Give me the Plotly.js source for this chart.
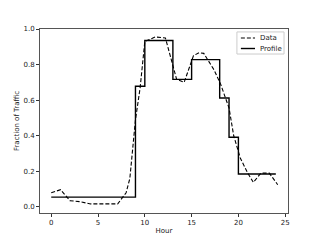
<!DOCTYPE html>
<html>
<head>
<meta charset="utf-8">
<script src="https://cdn.plot.ly/plotly-3.0.1.min.js"></script>
<style>html,body{margin:0;padding:0;background:#fff;}#chart{width:320px;height:240px;}</style>
</head>
<body>
<div id="chart"></div>
<script>
// Observed traffic data (hour, fraction)
const dataHours = [0, 1, 2, 3, 4.2, 7.1, 8, 8.4, 9, 9.5, 10, 11.1, 12.2, 13.4, 14.2, 15.2, 15.8, 16.3, 17.4, 18.1, 19, 19.5, 20.2, 21, 21.6, 22.4, 23.3, 24.2];
const dataValues = [0.08, 0.097, 0.035, 0.03, 0.017, 0.017, 0.08, 0.16, 0.49, 0.67, 0.93, 0.955, 0.95, 0.717, 0.70, 0.85, 0.867, 0.863, 0.77, 0.69, 0.556, 0.40, 0.275, 0.19, 0.138, 0.19, 0.19, 0.125];
// Step profile
const profileHours = [0, 9, 10, 13, 15, 18, 19, 20, 24];
const profileValues = [0.055, 0.678, 0.935, 0.717, 0.828, 0.612, 0.392, 0.185, 0.185];
const xTicks = [0, 5, 10, 15, 20, 25];
const yTicks = [0.0, 0.2, 0.4, 0.6, 0.8, 1.0];
const legendNames = ['Data', 'Profile'];

const font = {family: 'DejaVu Sans, sans-serif', size: 7, color: '#222'};
const dataLine = {color: '#000', width: 1.1, dash: '4px,2px'};
const profLine = {color: '#000', width: 1.4};

const traces = [
  {x: dataHours, y: dataValues, mode: 'lines', name: legendNames[0], line: dataLine},
  {x: profileHours, y: profileValues, mode: 'lines', name: legendNames[1],
   line: Object.assign({shape: 'hv'}, profLine)}
];

// compact matplotlib-style legend built in paper coordinates
const lg = {x0: 0.794, x1: 0.984, y0: 0.864, y1: 0.984, lx0: 0.810, lx1: 0.867, tx: 0.880, rows: [0.951, 0.894]};
const shapes = [
  {type: 'rect', xref: 'paper', yref: 'paper', x0: lg.x0, x1: lg.x1, y0: lg.y0, y1: lg.y1,
   line: {color: '#ccc', width: 1}, fillcolor: '#fff', layer: 'above'},
  {type: 'line', xref: 'paper', yref: 'paper', x0: lg.lx0, x1: lg.lx1, y0: lg.rows[0], y1: lg.rows[0],
   line: dataLine, layer: 'above'},
  {type: 'line', xref: 'paper', yref: 'paper', x0: lg.lx0, x1: lg.lx1, y0: lg.rows[1], y1: lg.rows[1],
   line: profLine, layer: 'above'}
];
const annotations = legendNames.map((n, i) => ({
  xref: 'paper', yref: 'paper', x: lg.tx, y: lg.rows[i], text: n, showarrow: false,
  xanchor: 'left', yanchor: 'middle', font: font
}));

const layout = {
  width: 320, height: 240,
  margin: {l: 40, r: 32, t: 29, b: 27},
  paper_bgcolor: '#fff', plot_bgcolor: '#fff',
  font: font,
  showlegend: false,
  shapes: shapes,
  annotations: annotations,
  xaxis: {range: [-1.2, 25.3], tickvals: xTicks, ticktext: xTicks.map(String),
          ticks: 'outside', ticklen: 3, tickcolor: '#333', showgrid: false, zeroline: false,
          showline: true, linecolor: '#555', linewidth: 1, mirror: true,
          title: {text: 'Hour', font: font, standoff: 1}, tickfont: font},
  yaxis: {range: [-0.034, 1.0], tickvals: yTicks, ticktext: yTicks.map(v => v.toFixed(1)),
          ticks: 'outside', ticklen: 3, tickcolor: '#333', showgrid: false, zeroline: false,
          showline: true, linecolor: '#555', linewidth: 1, mirror: true,
          title: {text: 'Fraction of Traffic', font: font, standoff: 3}, tickfont: font}
};

Plotly.newPlot('chart', traces, layout, {displayModeBar: false, staticPlot: true});
</script>
</body>
</html>
